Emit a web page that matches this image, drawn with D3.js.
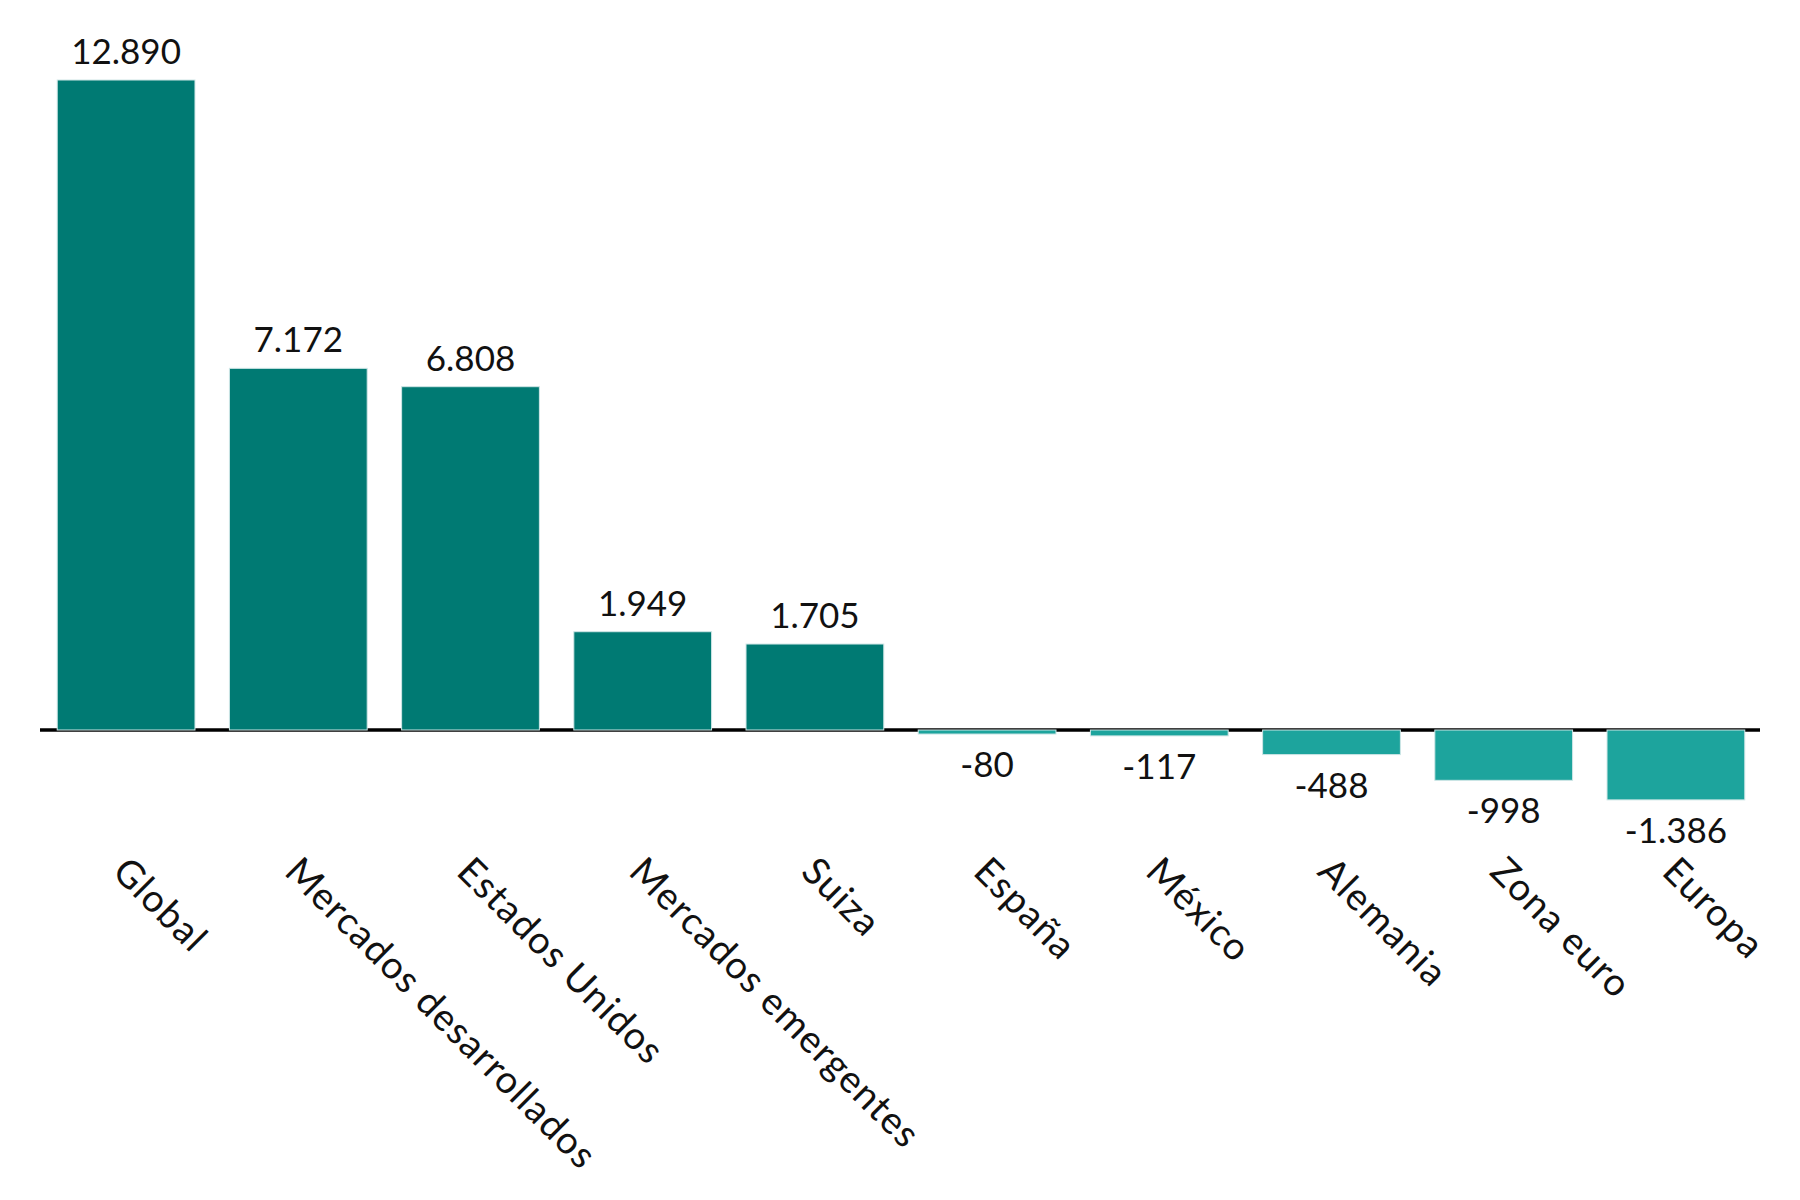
<!DOCTYPE html>
<html>
<head>
<meta charset="utf-8">
<script src="https://cdn.jsdelivr.net/npm/d3@7"></script>
<style>
  body { margin: 0; background: #fff; }
  text { font-family: Lato, "Noto Sans", sans-serif; fill: #111; }
</style>
</head>
<body>
<svg id="chart" width="1800" height="1200"></svg>
<script>
const categories = ['Global', 'Mercados desarrollados', 'Estados Unidos', 'Mercados emergentes', 'Suiza',
    'España', 'México', 'Alemania', 'Zona euro', 'Europa'];
const values = [12890, 7172, 6808, 1949, 1705, -80, -117, -488, -998, -1386];

const width = 1800, height = 1200;
const left = 40, right = 1762;
const baseY = 730, topY = 80;

const svg = d3.select('#chart');
const locale = d3.formatLocale({ decimal: ',', thousands: '.', grouping: [3], currency: ['', '€'], minus: '-' });
const fmt = locale.format(',d');

const x = d3.scaleBand()
    .domain(categories)
    .range([left, right])
    .paddingInner(0.2)
    .paddingOuter(0.1);

const y = d3.scaleLinear()
    .domain([0, 12890])
    .range([baseY, topY]);

// zero line
svg.append('line')
    .attr('x1', left).attr('x2', right - 2)
    .attr('y1', baseY).attr('y2', baseY)
    .attr('stroke', '#000')
    .attr('stroke-width', 3.5);

const bars = svg.append('g');
bars.selectAll('rect')
    .data(values)
    .enter().append('rect')
    .attr('x', (d, i) => x(categories[i]))
    .attr('width', x.bandwidth())
    .attr('y', d => d >= 0 ? y(d) : baseY)
    .attr('height', d => Math.max(3, Math.abs(y(d) - baseY)))
    .attr('fill', d => d >= 0 ? '#007A73' : '#1DA49D')
    .attr('stroke', '#cfe6e6')
    .attr('stroke-width', 1);

svg.append('g').selectAll('text')
    .data(values)
    .enter().append('text')
    .attr('x', (d, i) => x(categories[i]) + x.bandwidth() / 2)
    .attr('y', d => d >= 0 ? y(d) - 16 : Math.max(y(d), baseY + 3) + 43)
    .attr('text-anchor', 'middle')
    .style('font-size', '35px')
    .text(d => fmt(d));

svg.append('g').selectAll('text')
    .data(categories)
    .enter().append('text')
    .attr('transform', d => 'translate(' + (x(d) + x.bandwidth() / 2 - 6) + ',' + 864 + ') rotate(45)')
    .attr('text-anchor', 'start')
    .attr('dy', '0.35em')
    .style('font-size', '38px')
    .style('letter-spacing', '1.2px')
    .text(d => d);
</script>
</body>
</html>
